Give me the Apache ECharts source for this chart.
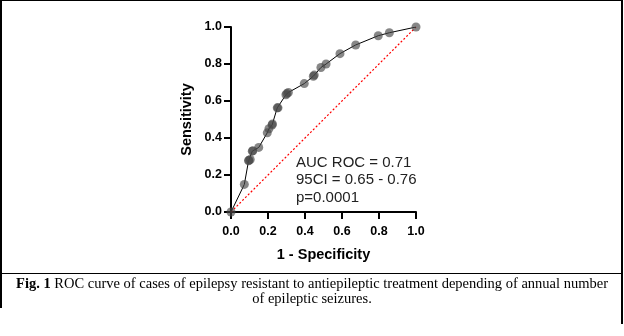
<!DOCTYPE html>
<html><head><meta charset="utf-8">
<script src="https://cdn.jsdelivr.net/npm/echarts@6/dist/echarts.min.js"></script>
<style>html,body{margin:0;padding:0;background:#fff}#c{width:624px;height:336px}</style>
</head><body><div id="c"></div>
<script>
const fpr = [0, 0.072, 0.095, 0.097, 0.104, 0.115, 0.118, 0.150, 0.196, 0.205, 0.222, 0.224, 0.250, 0.254, 0.297, 0.302, 0.310, 0.396, 0.445, 0.450, 0.486, 0.514, 0.589, 0.674, 0.796, 0.856, 1.0];
const tpr = [0, 0.149, 0.277, 0.280, 0.284, 0.329, 0.331, 0.349, 0.428, 0.450, 0.470, 0.476, 0.563, 0.563, 0.634, 0.640, 0.646, 0.694, 0.734, 0.740, 0.781, 0.800, 0.856, 0.903, 0.953, 0.969, 1.0];
const ticks = [0.0, 0.2, 0.4, 0.6, 0.8, 1.0];
const statLines = ['AUC ROC = 0.71', '95CI = 0.65 - 0.76', 'p=0.0001'];
const captionBold = 'Fig. 1';
const captionLine1 = ' ROC curve of cases of epilepsy resistant to antiepileptic treatment depending of annual number';
const captionLine2 = 'of epileptic seizures.';

const chart = echarts.init(document.getElementById('c'), null, {renderer: 'canvas'});
const axisCommon = {
  min: 0, max: 1, interval: 0.2,
  axisLine: {show: true, lineStyle: {color: '#000', width: 2}},
  axisTick: {show: true, length: 7, lineStyle: {color: '#000', width: 2}},
  splitLine: {show: false},
  axisLabel: {color: '#000', fontFamily: 'Liberation Sans', fontWeight: 'bold', fontSize: 12.5,
    formatter: v => v.toFixed(1)},
  nameTextStyle: {color: '#000', fontFamily: 'Liberation Sans', fontWeight: 'bold', fontSize: 14.5}
};
chart.setOption({
  animation: false,
  grid: {left: 231, top: 27, width: 185, height: 185},
  xAxis: Object.assign({}, axisCommon, {type: 'value', name: '1 - Specificity', nameLocation: 'middle', nameGap: 35,
    axisLabel: Object.assign({}, axisCommon.axisLabel, {margin: 13})}),
  yAxis: Object.assign({}, axisCommon, {type: 'value', name: 'Sensitivity', nameLocation: 'middle', nameGap: 37,
    axisLabel: Object.assign({}, axisCommon.axisLabel, {margin: 9})}),
  series: [
    {type: 'line', data: [[0, 0], [1, 1]], symbol: 'none', silent: true,
      lineStyle: {color: '#ff0000', width: 1.2, type: [2, 2]}, z: 1},
    {type: 'line', data: fpr.map((x, i) => [x, tpr[i]]), symbol: 'circle', symbolSize: 9,
      lineStyle: {color: '#000', width: 1},
      itemStyle: {color: 'rgba(70,70,70,0.65)', borderWidth: 0}, z: 2}
  ],
  graphic: [
    {type: 'text', left: 296, top: 154, style: {text: statLines.join('\n'), font: '15px "Liberation Sans"', fill: '#222', lineHeight: 17.5}},
    {type: 'rect', shape: {x: 0, y: 0, width: 623, height: 1}, style: {fill: '#000'}},
    {type: 'rect', shape: {x: 0, y: 0, width: 2, height: 308}, style: {fill: '#000'}},
    {type: 'rect', shape: {x: 621, y: 0, width: 2, height: 324}, style: {fill: '#000'}},
    {type: 'rect', shape: {x: 0, y: 273, width: 623, height: 1}, style: {fill: '#000'}},
    {type: 'text', left: 'center', top: 277, style: {rich: {b: {fontWeight: 'bold', fontFamily: 'Liberation Serif', fontSize: 14.5, fill: '#000'}, n: {fontFamily: 'Liberation Serif', fontSize: 14.5, fill: '#000'}}, text: '{b|' + captionBold + '}{n|' + captionLine1 + '}'}},
    {type: 'text', left: 'center', top: 292, style: {text: captionLine2, font: '14.5px "Liberation Serif"', fill: '#000'}}
  ]
});
</script></body></html>
